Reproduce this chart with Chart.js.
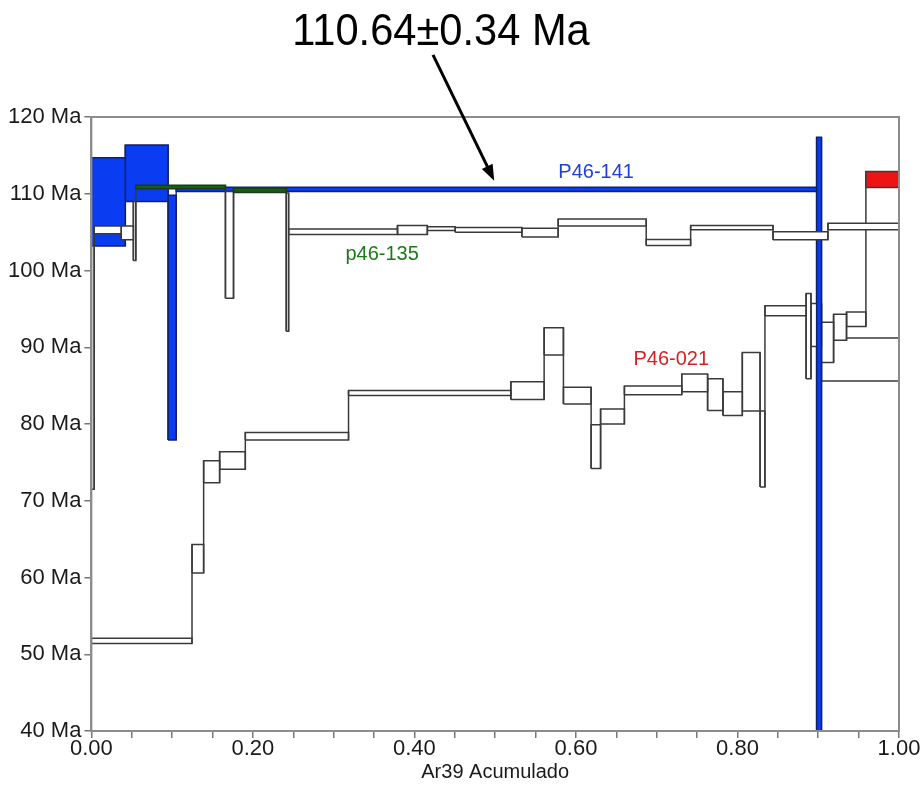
<!DOCTYPE html>
<html>
<head>
<meta charset="utf-8">
<script src="https://cdn.jsdelivr.net/npm/chart.js@4.4.1/dist/chart.umd.min.js"></script>
<style>
  html, body { margin: 0; padding: 0; background: #fff; }
  #wrap { width: 923px; height: 785px; }
</style>
</head>
<body>
<div id="wrap"><canvas id="spectrum"></canvas></div>
<script>
// --- P46-021: step boundaries (cumulative Ar39) and age limits (Ma) ---
const p021Bounds = [0, 0.1246, 0.139, 0.1588, 0.1906, 0.3184, 0.5194, 0.5606, 0.5845, 0.6188, 0.6305,
  0.660, 0.731, 0.763, 0.782, 0.806, 0.828, 0.834, 0.885, 0.891, 0.904, 0.919, 0.935, 0.959, 1.0];
const p021Lo = [51.4, 60.6, 72.35, 74.1, 77.9, 83.7, 83.2, 89.0, 82.6, 74.2, 80.0, 83.8,
  84.2, 81.75, 81.1, 81.7, 71.8, 94.1, 85.9, 90.1, 88.0, 90.9, 92.7, 110.8];
const p021Hi = [52.1, 64.3, 75.2, 76.4, 78.9, 84.35, 85.5, 92.55, 84.8, 79.9, 81.95, 84.95,
  86.5, 85.9, 84.2, 89.3, 81.7, 95.4, 97.0, 95.7, 93.25, 94.3, 94.6, 112.9];
const p021Plateau = [23];

// --- p46-135 ---
const p135Bounds = [0, 0.0035, 0.037, 0.052, 0.055, 0.166, 0.176, 0.2413, 0.2442, 0.379,
  0.416, 0.4505, 0.533, 0.578, 0.687, 0.742, 0.844, 0.912, 1.0];
const p135Lo = [71.5, 104.8, 104.0, 101.3, 110.65, 96.4, 110.15, 92.1, 104.7, 104.7,
  105.2, 105.0, 104.35, 105.8, 103.25, 105.3, 104.0, 105.3];
const p135Hi = [103.2, 105.8, 105.8, 109.0, 111.1, 110.3, 110.75, 110.1, 105.4, 105.85,
  105.7, 105.6, 105.5, 106.7, 104.05, 105.85, 105.05, 106.15];
const p135Plateau = [4, 6];

// --- P46-141 ---
const p141Bounds = [0, 0.042, 0.095, 0.105, 0.898, 0.904, 1.0];
const p141Lo = [103.2, 109.0, 77.9, 110.3, 36, 85.6];
const p141Hi = [114.7, 116.35, 109.8, 110.85, 117.35, 91.2];
const p141Plateau = [0, 1, 2, 3, 4];

// --- Axis ticks ---
const ageTicks = [40, 50, 60, 70, 80, 90, 100, 110, 120];
const fracLabels = [0, 0.2, 0.4, 0.6, 0.8, 1.0];

const BOX_EDGE = "#3a3a3a";
const datasets = [];

// each step is a closed rectangle, plus a riser joining it to the next step
function addSample(bounds, lo, hi, plateau, plateauFill, edge, layer, plateauLayer) {
  for (let i = 0; i < lo.length; i++) {
    const isPlat = plateau.includes(i);
    const x0 = bounds[i], x1 = bounds[i + 1];
    datasets.push({
      data: [
        { x: x0, y: lo[i] }, { x: x1, y: lo[i] }, { x: x1, y: hi[i] },
        { x: x0, y: hi[i] }, { x: x0, y: lo[i] }
      ],
      fill: "shape",
      backgroundColor: isPlat ? plateauFill : "#ffffff",
      borderColor: isPlat ? edge : BOX_EDGE,
      borderWidth: 1.5,
      order: -(isPlat ? plateauLayer : layer)
    });
    if (i < lo.length - 1) {
      datasets.push({
        data: [
          { x: x1, y: Math.min(lo[i], lo[i + 1]) },
          { x: x1, y: Math.max(hi[i], hi[i + 1]) }
        ],
        fill: false,
        borderColor: BOX_EDGE,
        borderWidth: 1.5,
        order: -(layer + 0.1)
      });
    }
  }
}

addSample(p141Bounds, p141Lo, p141Hi, p141Plateau, "#0a3cf2", "#10206a", 0, 2);
addSample(p021Bounds, p021Lo, p021Hi, p021Plateau, "#ee1414", "#3a3a3a", 1, 1.5);
addSample(p135Bounds, p135Lo, p135Hi, p135Plateau, "#126012", "#1e3a1e", 3, 3.5);

// --- Labels, title, arrow, frame ---
const decorations = {
  id: "decorations",
  afterDatasetsDraw(chart) {
    const { ctx, chartArea: a } = chart;
    ctx.save();
    ctx.strokeStyle = "#8c8c8c";
    ctx.lineWidth = 2;
    ctx.strokeRect(a.left, a.top, a.right - a.left, a.bottom - a.top);
    ctx.restore();
  },
  afterDraw(chart) {
    const { ctx, scales: { x, y } } = chart;
    ctx.save();

    // sample names
    ctx.font = "20px 'Liberation Sans', Arial, sans-serif";
    ctx.textAlign = "center";
    ctx.textBaseline = "alphabetic";
    ctx.fillStyle = "#1f3fd6";
    ctx.fillText("P46-141", x.getPixelForValue(0.625), y.getPixelForValue(112.05));
    ctx.fillStyle = "#1a7a1a";
    ctx.fillText("p46-135", x.getPixelForValue(0.36), y.getPixelForValue(101.4));
    ctx.fillStyle = "#d42222";
    ctx.fillText("P46-021", x.getPixelForValue(0.718), y.getPixelForValue(87.7));

    // plateau age
    ctx.save();
    ctx.translate(441, 45);
    ctx.scale(0.925, 1);
    ctx.fillStyle = "#000";
    ctx.font = "45px 'Liberation Sans', Arial, sans-serif";
    ctx.fillText("110.64\u00b10.34 Ma", 0, 0);
    ctx.restore();

    // arrow to the plateau line
    const tx = x.getPixelForValue(0.4988), ty = y.getPixelForValue(111.7);
    const sx = x.getPixelForValue(0.423), sy = y.getPixelForValue(128.1);
    const ang = Math.atan2(ty - sy, tx - sx);
    ctx.strokeStyle = "#000";
    ctx.lineWidth = 3;
    ctx.beginPath();
    ctx.moveTo(sx, sy);
    ctx.lineTo(tx - 10 * Math.cos(ang), ty - 10 * Math.sin(ang));
    ctx.stroke();
    ctx.fillStyle = "#000";
    ctx.beginPath();
    ctx.moveTo(tx, ty);
    ctx.lineTo(tx - 16 * Math.cos(ang) + 6 * Math.sin(ang), ty - 16 * Math.sin(ang) - 6 * Math.cos(ang));
    ctx.lineTo(tx - 16 * Math.cos(ang) - 6 * Math.sin(ang), ty - 16 * Math.sin(ang) + 6 * Math.cos(ang));
    ctx.closePath();
    ctx.fill();
    ctx.restore();
  }
};

new Chart(document.getElementById("spectrum"), {
  type: "line",
  data: { datasets: datasets },
  options: {
    responsive: true,
    maintainAspectRatio: false,
    animation: false,
    events: [],
    elements: {
      line: { tension: 0, borderJoinStyle: "miter" },
      point: { radius: 0, hoverRadius: 0 }
    },
    layout: { padding: { top: 117, left: 5, right: 24, bottom: 3 } },
    scales: {
      x: {
        type: "linear",
        min: 0,
        max: 1,
        ticks: {
          stepSize: 0.05,
          autoSkip: false,
          maxRotation: 0,
          padding: 0,
          color: "#1a1a1a",
          font: { family: "'Liberation Sans', Arial, sans-serif", size: 22, lineHeight: 1 },
          callback: (v) => {
            const hit = fracLabels.find(f => Math.abs(f - v) < 1e-6);
            return hit === undefined ? "" : hit.toFixed(2);
          }
        },
        grid: { drawOnChartArea: false, tickLength: 7, color: "#777", lineWidth: 1.5 },
        border: { color: "#8c8c8c", width: 2 },
        title: {
          display: true,
          text: "Ar39 Acumulado",
          color: "#1a1a1a",
          font: { family: "'Liberation Sans', Arial, sans-serif", size: 20, lineHeight: 1 },
          padding: { top: 2, bottom: 0 }
        }
      },
      y: {
        min: 40,
        max: 120,
        afterBuildTicks: (scale) => { scale.ticks = ageTicks.map(v => ({ value: v })); },
        ticks: {
          padding: 3,
          color: "#1a1a1a",
          font: { family: "'Liberation Sans', Arial, sans-serif", size: 22 },
          callback: (v) => v + " Ma"
        },
        grid: { drawOnChartArea: false, tickLength: 7, color: "#777", lineWidth: 1.5 },
        border: { color: "#8c8c8c", width: 2 }
      }
    },
    plugins: {
      legend: { display: false },
      tooltip: { enabled: false },
      title: { display: false }
    }
  },
  plugins: [decorations]
});
</script>
</body>
</html>
